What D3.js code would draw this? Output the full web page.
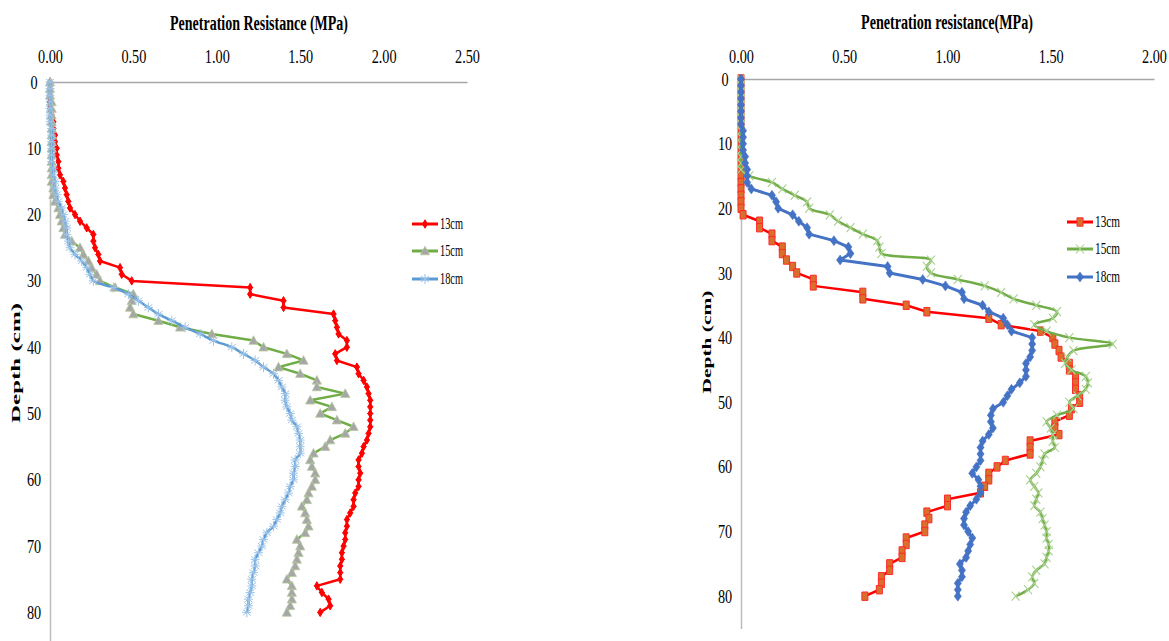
<!DOCTYPE html>
<html><head><meta charset="utf-8">
<script src="https://cdn.jsdelivr.net/npm/d3@7"></script>
<style>body{margin:0;background:#fff}svg{display:block}</style>
</head><body>
<svg id="c" width="1169" height="641"></svg>
<script>
// ---------- DATA ----------
const depthCm = [0,1,2,3,4,5,6,7,8,9,10,11,12,13,14,15,16,17,18,19,20,21,22,23,24,25,26,27,28,29,30,31,32,33,34,35,36,37,38,39,40,41,42,43,44,45,46,47,48,49,50,51,52,53,54,55,56,57,58,59,60,61,62,63,64,65,66,67,68,69,70,71,72,73,74,75,76,77,78,79,80];
const depthTicks = [0,10,20,30,40,50,60,70,80];
const xTicksLeft = [0,0.5,1,1.5,2,2.5];
const xTicksRight = [0,0.5,1,1.5,2];
const seriesNames = ["13cm","15cm","18cm"];

// left panel
const left13 = [0.00,0.00,0.00,0.00,0.00,0.01,0.02,0.02,0.03,0.03,
  0.04,0.04,0.05,0.05,0.06,0.08,0.09,0.10,0.11,0.12,
  0.15,0.18,0.22,0.26,0.26,0.27,0.29,0.30,0.42,0.43,
  0.49,1.20,1.20,1.40,1.40,1.70,1.71,1.72,1.73,1.78,
  1.78,1.71,1.72,1.84,1.85,1.88,1.90,1.91,1.92,1.92,
  1.92,1.92,1.92,1.91,1.90,1.88,1.87,1.85,1.85,1.86,
  1.85,1.85,1.83,1.82,1.82,1.80,1.78,1.78,1.77,1.77,
  1.76,1.75,1.75,1.74,1.74,1.74,1.60,1.63,1.67,1.68,
  1.62];
const left15 = [0.00,0.00,0.00,0.01,0.01,0.01,0.01,0.01,0.01,0.01,
  0.01,0.01,0.01,0.01,0.01,0.01,0.02,0.02,0.03,0.05,
  0.06,0.07,0.08,0.09,0.13,0.18,0.20,0.23,0.25,0.28,
  0.30,0.39,0.50,0.49,0.48,0.50,0.65,0.78,0.97,1.22,
  1.28,1.42,1.52,1.37,1.50,1.60,1.60,1.77,1.56,1.69,
  1.62,1.72,1.82,1.77,1.68,1.65,1.58,1.56,1.57,1.59,
  1.59,1.57,1.55,1.54,1.51,1.53,1.54,1.55,1.53,1.48,
  1.50,1.49,1.48,1.47,1.45,1.42,1.45,1.45,1.45,1.44,
  1.42];
const left18 = [0.00,0.00,0.00,0.00,0.00,0.00,0.00,0.01,0.01,0.01,
  0.01,0.01,0.01,0.02,0.02,0.03,0.03,0.04,0.05,0.07,
  0.08,0.09,0.10,0.10,0.11,0.12,0.15,0.19,0.22,0.24,
  0.26,0.38,0.47,0.53,0.59,0.65,0.73,0.81,0.90,0.98,
  1.09,1.16,1.23,1.28,1.34,1.37,1.39,1.41,1.41,1.42,
  1.44,1.45,1.48,1.49,1.50,1.50,1.50,1.47,1.47,1.46,
  1.46,1.44,1.43,1.41,1.39,1.38,1.36,1.34,1.30,1.28,
  1.27,1.25,1.23,1.23,1.22,1.21,1.21,1.20,1.19,1.19,
  1.18];

// right panel
const right13 = [0.00,0.00,0.00,0.00,0.00,0.00,0.00,0.00,0.00,0.00,
  0.00,0.00,0.00,0.00,0.00,0.00,0.00,0.00,0.00,0.00,
  0.00,0.01,0.09,0.09,0.15,0.15,0.20,0.20,0.22,0.25,
  0.27,0.35,0.35,0.59,0.59,0.80,0.90,1.20,1.26,1.45,
  1.51,1.52,1.54,1.55,1.59,1.59,1.62,1.62,1.62,1.64,
  1.64,1.60,1.59,1.52,1.52,1.54,1.40,1.40,1.40,1.28,
  1.24,1.20,1.20,1.18,1.16,1.00,1.00,0.90,0.91,0.89,
  0.89,0.80,0.80,0.78,0.78,0.72,0.72,0.68,0.68,0.67,
  0.60];
const right15 = [0.00,0.00,0.00,0.00,0.00,0.00,0.00,0.00,0.00,0.00,
  0.00,0.00,0.00,0.00,0.00,0.04,0.15,0.20,0.26,0.32,
  0.33,0.43,0.47,0.53,0.59,0.66,0.67,0.68,0.92,0.90,
  0.92,1.05,1.18,1.26,1.32,1.43,1.53,1.51,1.42,1.48,
  1.59,1.80,1.61,1.58,1.57,1.60,1.67,1.68,1.67,1.63,
  1.59,1.61,1.53,1.48,1.50,1.51,1.51,1.52,1.47,1.46,
  1.45,1.43,1.40,1.42,1.44,1.43,1.42,1.45,1.46,1.47,
  1.48,1.48,1.49,1.49,1.48,1.47,1.43,1.41,1.42,1.39,
  1.33];
const right18 = [0.00,0.00,0.00,0.00,0.00,0.00,0.00,0.00,0.01,0.01,
  0.01,0.01,0.02,0.02,0.03,0.03,0.03,0.05,0.15,0.17,
  0.18,0.25,0.28,0.32,0.33,0.45,0.52,0.53,0.48,0.71,
  0.72,0.88,0.99,1.07,1.08,1.17,1.20,1.27,1.29,1.31,
  1.41,1.41,1.41,1.40,1.38,1.38,1.38,1.35,1.31,1.29,
  1.27,1.22,1.21,1.21,1.22,1.20,1.17,1.16,1.16,1.16,
  1.14,1.12,1.15,1.16,1.16,1.14,1.11,1.09,1.08,1.08,
  1.10,1.12,1.11,1.10,1.09,1.06,1.07,1.07,1.05,1.05,
  1.05];

// ---------- DRAWING ----------
const FONT = '"Liberation Serif","Times New Roman",serif';
const SQ = 0.75; // horizontal squeeze of the original picture
const svg = d3.select('#c');

const markerDefs = {
  plus: {d: "M0,-4.2L2.4,0L0,4.2L-2.4,0Z M-3,0H3", fill: "#ff0000", stroke: "#ff0000", sw: 1},
  tri: {d: "M0,-4.8L4.6,3.8L-4.6,3.8Z", fill: "#a6a6a6", stroke: "#b5c9a0", sw: 0.8},
  star: {d: "M0,-5V5M-4,-3L4,3M-4,3L4,-3M-4.5,0H4.5", fill: "none", stroke: "#9dc3e6", sw: 1},
  square: {d: "M-3,-4.2H3V4.2H-3Z", fill: "#d86f2a", stroke: "#ff2a2a", sw: 1},
  cross: {d: "M-4,-4.5L4,4.5M-4,4.5L4,-4.5", fill: "none", stroke: "#a9d18e", sw: 1.1},
  diamond: {d: "M0,-5L3.6,0L0,5L-3.6,0Z", fill: "#4472c4", stroke: "#4472c4", sw: 0.5}
};

function squeezeText(sel, x, y, str, size, weight, anchor, len){
  const t = sel.append('text').attr('x', x).attr('y', y)
    .attr('font-family', FONT).attr('font-size', size).attr('font-weight', weight || 'normal')
    .attr('text-anchor', anchor || 'start').attr('fill', '#000').text(str);
  if (len) t.attr('textLength', len).attr('lengthAdjust', 'spacingAndGlyphs');
  return t;
}

function panel(cfg){
  const g = svg.append('g');
  const x = d3.scaleLinear().domain(cfg.xDomain).range(cfg.xRange);
  const y = d3.scaleLinear().domain([0, 85]).range(cfg.yRange);

  // top axis
  const ax = g.append('g').attr('transform', `translate(0,${y(0)})`)
    .call(d3.axisTop(x).tickValues(cfg.xTicks).tickFormat(d3.format('.2f')).tickSize(0).tickSizeOuter(0).tickPadding(cfg.xPad));
  ax.select('.domain').attr('stroke', '#a6a6a6').attr('stroke-width', 1.3);
  ax.selectAll('text').attr('font-family', FONT).attr('font-size', 19).attr('fill', '#000')
    .attr('transform', `scale(${SQ},1)`);

  // left axis
  const ay = g.append('g').attr('transform', `translate(${x(0)},0)`)
    .call(d3.axisLeft(y).tickValues(depthTicks).tickSize(0).tickSizeOuter(0).tickPadding(0));
  ay.select('.domain').attr('stroke', '#bdbdbd').attr('stroke-width', 1.5);
  ay.selectAll('text').attr('font-family', FONT).attr('font-size', 19).attr('fill', '#000')
    .attr('text-anchor', 'middle').attr('x', -16 / SQ).attr('transform', `scale(${SQ},1)`);

  // titles
  squeezeText(g, cfg.titleX, cfg.titleY, cfg.title, 20, 'bold', 'middle', cfg.titleLen);
  const yl = g.append('g').attr('transform', `translate(${cfg.ylX},${cfg.ylY}) rotate(-90)`);
  squeezeText(yl, 0, 0, 'Depth (cm)', 16, 'bold', 'middle', cfg.ylLen).attr('dy', '0.35em')
    .attr('transform', `scale(1,${SQ})`);

  // series
  cfg.series.forEach(s => {
    const pts = depthCm.map((d, i) => [d, s.values[i]]);
    const line = d3.line().x(p => x(p[1])).y(p => y(p[0])).curve(s.smooth ? d3.curveCatmullRom.alpha(0.5) : d3.curveLinear);
    g.append('path').datum(pts).attr('d', line).attr('fill', 'none')
      .attr('stroke', s.color).attr('stroke-width', s.width).attr('stroke-linejoin', 'round');
    const m = markerDefs[s.marker];
    g.append('g').selectAll('path').data(pts).join('path')
      .attr('transform', p => `translate(${x(p[1])},${y(p[0])})`)
      .attr('d', m.d).attr('fill', m.fill).attr('stroke', m.stroke).attr('stroke-width', m.sw);
  });

  // legend
  cfg.series.forEach((s, i) => {
    const ly = cfg.legY[i];
    g.append('line').attr('x1', cfg.legX).attr('x2', cfg.legX + 26).attr('y1', ly).attr('y2', ly)
      .attr('stroke', s.color).attr('stroke-width', 3);
    const m = markerDefs[s.marker];
    g.append('path').attr('transform', `translate(${cfg.legX + 13},${ly})`)
      .attr('d', m.d).attr('fill', m.fill).attr('stroke', m.stroke).attr('stroke-width', m.sw);
    squeezeText(g, cfg.legX + 28, ly + 5, seriesNames[i], 16, 'normal', 'start', cfg.legLen[i]);
  });
}

panel({
  xDomain: [0, 2.5], xRange: [50, 467], yRange: [82, 82 + 85 * 6.63],
  xTicks: xTicksLeft, xPad: 19,
  title: 'Penetration Resistance (MPa)', titleX: 259, titleY: 30, titleLen: 178,
  ylX: 16, ylY: 363, ylLen: 120,
  legX: 412, legY: [224, 251, 279], legLen: [23, 23, 23],
  series: [
    {values: left13, color: '#ff0000', width: 2.5, marker: 'plus', smooth: false},
    {values: left15, color: '#70ad47', width: 2.5, marker: 'tri', smooth: false},
    {values: left18, color: '#5b9bd5', width: 2.5, marker: 'star', smooth: true}
  ]
});

panel({
  xDomain: [0, 2], xRange: [741, 1154], yRange: [79, 79 + 85 * 6.465],
  xTicks: xTicksRight, xPad: 16,
  title: 'Penetration resistance(MPa)', titleX: 947, titleY: 29, titleLen: 172,
  ylX: 707, ylY: 342, ylLen: 103,
  legX: 1067, legY: [222, 249, 277], legLen: [25, 25, 25],
  series: [
    {values: right13, color: '#ff0000', width: 2.5, marker: 'square', smooth: false},
    {values: right15, color: '#70ad47', width: 2.5, marker: 'cross', smooth: true},
    {values: right18, color: '#4472c4', width: 3, marker: 'diamond', smooth: false}
  ]
});
</script>
</body></html>
